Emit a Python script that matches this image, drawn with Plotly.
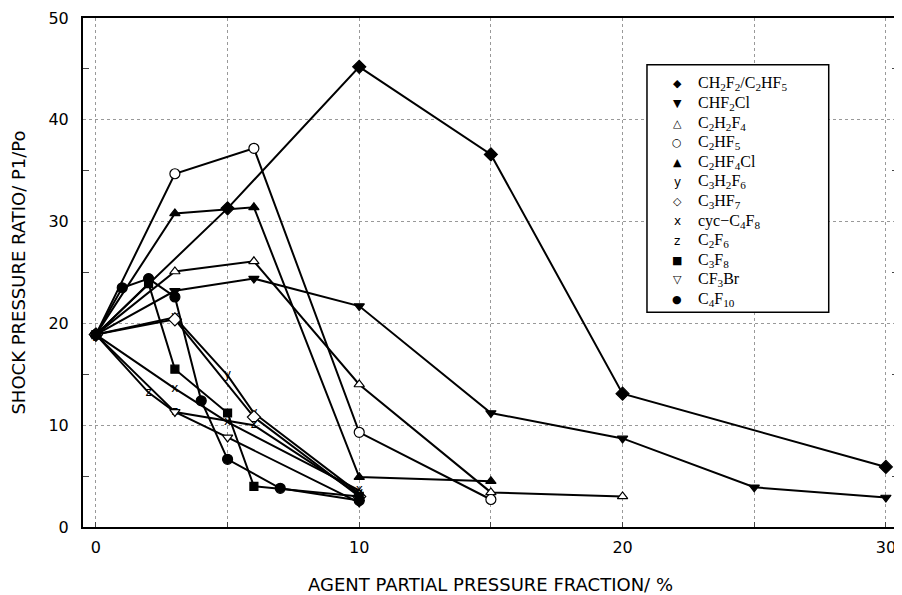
import plotly.graph_objects as go

# agent partial pressure fraction (%) and shock pressure ratio P1/Po per agent
ch2f2_x = [0, 5, 10, 15, 20, 30]
ch2f2_y = [18.9, 31.3, 45.2, 36.6, 13.1, 5.9]

chf2cl_x = [0, 3, 6, 10, 15, 20, 25, 30]
chf2cl_y = [18.9, 23.2, 24.4, 21.7, 11.2, 8.7, 3.9, 2.9]

c2h2f4_x = [0, 3, 6, 10, 15, 20]
c2h2f4_y = [18.9, 25.1, 26.1, 14.0, 3.4, 3.0]

c2hf5_x = [0, 3, 6, 10, 15]
c2hf5_y = [18.9, 34.7, 37.2, 9.3, 2.7]

c2hf4cl_x = [0, 3, 6, 10, 15]
c2hf4cl_y = [18.9, 30.8, 31.4, 4.9, 4.5]

c3h2f6_x = [0, 3, 5, 6, 10]
c3h2f6_y = [18.9, 20.6, 14.9, 11.2, 3.3]

c3hf7_x = [0, 3, 6, 10]
c3hf7_y = [18.9, 20.4, 10.8, 3.0]

cyc_x = [0, 3, 5, 10]
cyc_y = [18.9, 13.6, 10.3, 3.6]

c2f6_x = [0, 2, 3, 6, 10]
c2f6_y = [18.9, 13.2, 11.3, 10.0, 3.2]

c3f8_x = [0, 2, 3, 5, 6, 10]
c3f8_y = [18.9, 23.9, 15.5, 11.2, 4.0, 3.0]

cf3br_x = [0, 3, 5, 10]
cf3br_y = [18.9, 11.3, 8.8, 2.4]

c4f10_x = [0, 1, 2, 3, 4, 5, 7, 10]
c4f10_y = [18.9, 23.5, 24.4, 22.6, 12.4, 6.65, 3.8, 2.6]

legend_symbols = ["\u25c6", "\u25bc", "\u25b3", "\u25cb", "\u25b2", "y",
                  "\u25c7", "x", "z", "\u25a0", "\u25bd", "\u25cf"]
legend_names = [
    "CH<sub>2</sub>F<sub>2</sub>/C<sub>2</sub>HF<sub>5</sub>",
    "CHF<sub>2</sub>Cl",
    "C<sub>2</sub>H<sub>2</sub>F<sub>4</sub>",
    "C<sub>2</sub>HF<sub>5</sub>",
    "C<sub>2</sub>HF<sub>4</sub>Cl",
    "C<sub>3</sub>H<sub>2</sub>F<sub>6</sub>",
    "C<sub>3</sub>HF<sub>7</sub>",
    "cyc\u2212C<sub>4</sub>F<sub>8</sub>",
    "C<sub>2</sub>F<sub>6</sub>",
    "C<sub>3</sub>F<sub>8</sub>",
    "CF<sub>3</sub>Br",
    "C<sub>4</sub>F<sub>10</sub>",
]

LINE = dict(color="black", width=2)


def marker_trace(x, y, symbol, fill="black", size=9):
    return go.Scatter(
        x=x, y=y, mode="lines+markers", line=LINE, showlegend=False,
        marker=dict(symbol=symbol, size=size, color=fill,
                    line=dict(color="black", width=1.2)),
    )


def letter_trace(x, y, letter):
    return go.Scatter(
        x=x, y=y, mode="lines+text", line=LINE, showlegend=False,
        text=[letter] * len(x), textposition="middle center",
        textfont=dict(family="DejaVu Sans", size=12, color="black"),
    )


fig = go.Figure()
fig.add_trace(marker_trace(ch2f2_x, ch2f2_y, "diamond", size=10))
fig.add_trace(marker_trace(chf2cl_x, chf2cl_y, "triangle-down"))
fig.add_trace(marker_trace(c2h2f4_x, c2h2f4_y, "triangle-up", fill="white"))
fig.add_trace(marker_trace(c2hf5_x, c2hf5_y, "circle", fill="white", size=10))
fig.add_trace(marker_trace(c2hf4cl_x, c2hf4cl_y, "triangle-up"))
fig.add_trace(letter_trace(c3h2f6_x, c3h2f6_y, "y"))
fig.add_trace(marker_trace(c3hf7_x, c3hf7_y, "diamond", fill="white", size=10))
fig.add_trace(letter_trace(cyc_x, cyc_y, "x"))
fig.add_trace(letter_trace(c2f6_x, c2f6_y, "z"))
fig.add_trace(marker_trace(c3f8_x, c3f8_y, "square", size=8))
fig.add_trace(marker_trace(cf3br_x, cf3br_y, "triangle-down", fill="white"))
fig.add_trace(marker_trace(c4f10_x, c4f10_y, "circle", size=10))

# hand-drawn legend box (markers only, no lines, like the original)
fig.add_shape(type="rect", xref="paper", yref="paper",
              x0=0.692, x1=0.915, y0=0.422, y1=0.908,
              line=dict(color="black", width=1.5), fillcolor="white", layer="above")
for i, (sym, name) in enumerate(zip(legend_symbols, legend_names)):
    ypos = (527 - (84 + i * 19.6)) / 509
    fig.add_annotation(x=0.729, y=ypos, xref="paper", yref="paper",
                       text=sym, showarrow=False, xanchor="center", yanchor="middle",
                       font=dict(family="DejaVu Sans", size=12 if sym in "xyz" else 11,
                                 color="black"))
    fig.add_annotation(x=0.752, y=ypos, xref="paper", yref="paper",
                       text=name, showarrow=False, xanchor="left", yanchor="middle",
                       font=dict(family="Liberation Serif", size=16, color="black"))

fig.update_xaxes(
    range=[-0.49, 30.46], tickvals=[0, 10, 20, 30], ticks="inside", ticklen=5,
    showgrid=True, gridcolor="#999999", griddash="dot", gridwidth=1,
    minor=dict(dtick=5, tick0=0, showgrid=True, gridcolor="#999999",
               griddash="dot", ticks="inside", ticklen=5),
    showline=True, linecolor="black", linewidth=2, mirror=True, zeroline=False,
    automargin=False, ticklabelstandoff=5,
    tickfont=dict(family="DejaVu Sans", size=16, color="black"),
    title=dict(text="AGENT PARTIAL PRESSURE FRACTION/ %", standoff=25,
               font=dict(family="DejaVu Sans", size=18, color="black")),
)
fig.update_yaxes(
    range=[0, 50], dtick=10, ticks="", showgrid=True, gridcolor="#999999",
    griddash="dot", gridwidth=1,
    minor=dict(dtick=5, ticks="inside", ticklen=6, showgrid=False),
    showline=True, linecolor="black", linewidth=2, mirror="ticks", zeroline=False,
    automargin=False, ticklabelstandoff=9,
    tickfont=dict(family="DejaVu Sans", size=16, color="black"),
    title=dict(text="SHOCK PRESSURE RATIO/ P1/Po", standoff=18,
               font=dict(family="DejaVu Sans", size=18, color="black")),
)
# the page body keeps its default 8px margin, so the figure is 8px smaller
fig.update_layout(
    width=894, height=587,
    margin=dict(l=75, r=4, t=10, b=68),
    plot_bgcolor="white", paper_bgcolor="white",
    showlegend=False,
)
fig.write_html("out.html")
